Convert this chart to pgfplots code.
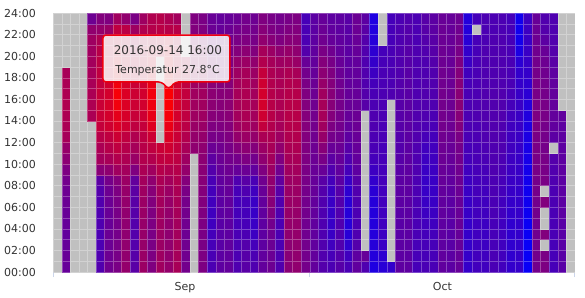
\documentclass[border=0pt]{standalone}
\usepackage{fontspec}
\setmainfont{DejaVu Sans}
\usepackage{pgfplots}
\usepackage{pgfplotstable}
\pgfplotsset{compat=1.18}
\definecolor{axgray}{HTML}{CCD6EB}
\definecolor{lbl}{HTML}{333333}
\definecolor{tipred}{HTML}{F0000F}
\pgfdeclareplotmark{cell}{\pgfpathrectangle{\pgfpoint{-4.2755bp}{-5.396bp}}{\pgfpoint{8.551bp}{10.792bp}}\pgfusepathqfillstroke}
% day index (0 = 2016-09-01), hourly temperatures h0..h23; -12 = no data (grey)
\pgfplotstableread{
d h0 h1 h2 h3 h4 h5 h6 h7 h8 h9 h10 h11 h12 h13 h14 h15 h16 h17 h18 h19 h20 h21 h22 h23
0 -12 -12 -12 -12 -12 -12 -12 -12 -12 -12 -12 -12 -12 -12 -12 -12 -12 -12 -12 -12 -12 -12 -12 -12
1 16.0 16.2 16.0 15.8 16.0 16.2 16.4 16.6 17.0 17.8 19.0 19.8 21.0 21.4 21.6 21.8 21.6 21.4 21.2 -12 -12 -12 -12 -12
2 -12 -12 -12 -12 -12 -12 -12 -12 -12 -12 -12 -12 -12 -12 -12 -12 -12 -12 -12 -12 -12 -12 -12 -12
3 -12 -12 -12 -12 -12 -12 -12 -12 -12 -12 -12 -12 -12 -12 -12 -12 -12 -12 -12 -12 -12 -12 -12 -12
4 -12 -12 -12 -12 -12 -12 -12 -12 -12 -12 -12 -12 -12 -12 21.4 21.6 21.4 21.2 21.0 20.8 20.6 20.4 19.4 16.6
5 14.4 14.2 14.0 14.0 14.2 14.2 14.4 14.6 15.2 18.8 20.8 21.4 22.4 23.4 23.8 23.8 23.6 23.2 23.0 22.8 22.4 21.6 19.6 18.2
6 16.8 16.6 16.4 16.4 16.2 16.2 16.4 16.6 17.2 19.2 21.2 22.2 23.0 24.2 24.6 24.8 24.6 24.4 24.0 23.8 23.6 23.2 20.0 18.0
7 17.6 17.4 17.4 17.2 17.2 17.4 17.6 17.8 18.4 20.6 22.0 23.0 24.0 25.2 26.0 27.0 27.4 27.0 26.2 25.4 24.4 23.8 23.0 20.6
8 19.6 19.4 19.4 19.2 19.2 19.4 19.6 19.8 20.2 20.8 21.6 22.2 23.0 24.2 24.8 25.2 25.2 25.0 24.6 24.0 23.4 23.0 22.6 19.4
9 15.0 14.8 14.6 14.6 14.6 14.8 15.0 15.2 15.8 18.0 20.0 21.0 21.8 23.0 23.6 24.0 24.0 23.8 23.4 22.8 21.6 21.0 20.4 17.6
10 20.2 20.0 19.8 19.8 19.8 20.0 20.2 20.4 20.8 21.4 22.0 22.4 22.8 23.4 24.0 24.4 24.4 24.2 23.8 23.4 22.8 22.4 21.8 20.4
11 18.0 17.8 17.6 17.6 17.8 18.0 18.2 18.6 19.2 20.6 22.0 23.0 24.0 25.4 26.2 26.8 27.0 26.4 25.6 25.0 24.2 23.0 22.2 21.8
12 20.6 20.4 20.2 20.2 20.4 20.6 20.8 21.0 21.4 22.2 23.0 23.8 -12 -12 -12 -12 -12 -12 -12 -12 23.6 23.2 22.6 22.2
13 19.6 19.4 19.4 19.2 19.4 19.6 19.8 20.2 20.8 21.8 23.2 24.2 25.2 26.4 27.2 27.6 27.8 27.4 26.6 26.0 25.4 24.8 22.4 21.6
14 21.2 21.0 21.0 20.8 20.8 21.0 21.2 21.4 21.8 22.2 22.8 23.2 23.8 24.2 24.6 24.8 24.8 24.6 24.2 23.6 23.2 22.8 22.4 20.8
15 17.0 16.8 16.8 16.6 16.8 17.0 17.2 17.6 18.4 19.6 20.4 21.2 22.0 22.6 23.0 23.2 23.2 23.0 22.8 22.4 -12 -12 -12 -12
16 -12 -12 -12 -12 -12 -12 -12 -12 -12 -12 -12 19.2 19.6 20.0 20.4 20.6 20.6 20.4 20.2 19.8 19.4 18.6 18.2 18.0
17 17.8 17.8 17.6 17.6 17.8 18.0 18.2 18.4 18.6 18.8 19.0 19.2 19.6 20.0 20.4 20.6 20.6 20.4 20.2 19.8 19.2 18.4 18.0 17.6
18 14.0 13.8 13.6 13.4 13.0 13.0 13.2 13.4 13.8 14.6 15.4 16.4 17.4 18.0 18.6 19.0 19.0 18.8 18.4 17.8 17.2 16.6 16.4 16.2
19 15.4 15.2 15.0 15.0 15.0 15.2 15.2 15.4 15.6 16.0 16.4 16.8 17.4 18.0 18.4 18.6 18.6 18.4 18.0 17.6 17.0 16.4 16.0 15.8
20 15.8 15.6 15.6 15.4 15.4 15.6 15.8 16.0 16.2 16.6 17.0 17.4 18.0 18.4 18.8 19.0 18.8 18.6 18.2 17.8 17.2 16.8 16.4 16.0
21 14.2 14.0 14.0 13.8 13.6 13.4 13.4 13.6 14.2 16.0 17.2 18.4 19.6 20.4 20.8 21.0 21.0 20.8 20.4 19.6 18.4 17.6 17.0 16.4
22 15.0 14.8 14.6 14.0 13.6 13.4 13.6 14.2 15.0 16.4 17.8 19.0 20.2 21.0 21.4 21.6 21.6 21.4 21.0 20.2 19.0 18.0 17.4 17.0
23 14.2 14.0 13.4 12.8 12.6 12.4 12.6 13.0 13.8 15.6 17.0 18.4 19.6 20.4 20.8 21.0 20.8 20.6 20.2 19.4 18.2 17.4 17.0 16.6
24 15.8 15.6 15.4 15.4 15.4 15.6 15.8 16.2 16.8 18.0 19.2 20.2 21.4 23.2 24.2 24.6 24.6 24.2 23.4 22.0 21.0 19.4 18.6 18.0
25 16.6 16.4 16.4 16.6 17.0 18.0 18.6 19.0 19.4 20.2 20.8 21.2 21.6 22.0 22.4 22.4 22.2 22.0 21.6 21.0 20.2 18.6 17.8 17.4
26 14.4 14.2 14.0 14.0 14.0 14.2 14.4 14.8 15.6 16.8 18.0 19.4 20.4 21.0 21.4 21.6 21.6 21.4 21.0 20.4 19.2 18.0 17.4 17.0
27 18.8 18.8 19.0 19.2 19.6 19.8 20.0 20.0 20.2 20.6 21.0 21.4 21.8 22.2 22.4 22.4 22.2 22.0 21.6 20.6 19.8 18.6 18.0 17.4
28 19.4 19.4 19.4 19.6 19.6 19.8 20.0 20.2 20.4 20.8 21.2 21.6 22.0 22.2 22.4 22.4 22.2 21.8 21.2 20.0 19.2 18.6 18.2 17.8
29 17.2 17.0 17.0 16.8 16.8 17.0 17.0 17.2 17.4 17.6 17.8 18.0 18.2 18.4 18.4 18.2 18.0 17.6 17.0 16.2 14.6 14.0 13.8 13.6
30 15.8 15.8 15.6 15.6 15.6 15.8 15.8 16.0 16.0 16.2 16.4 16.6 16.8 17.0 17.0 16.8 16.6 16.4 16.0 15.8 15.6 15.4 15.2 15.2
31 14.6 14.4 14.4 14.2 14.2 14.2 14.4 14.6 15.0 16.2 17.4 18.6 19.8 20.6 21.0 21.0 20.6 19.8 19.0 18.4 17.6 16.8 16.4 16.0
32 14.0 13.6 13.0 12.6 12.4 12.4 12.6 12.8 13.4 14.4 15.2 16.2 17.2 17.8 18.4 18.6 18.6 18.4 18.0 17.4 16.8 16.0 15.6 15.4
33 14.8 14.6 14.4 14.4 14.4 14.4 14.6 14.8 15.2 15.6 16.0 16.4 16.8 17.0 17.2 17.2 17.0 16.8 16.4 16.2 15.8 15.6 15.4 15.4
34 13.8 13.0 11.8 11.2 11.0 11.0 11.2 11.6 12.4 13.4 14.2 14.8 15.4 15.8 16.0 16.2 16.0 15.8 15.6 15.4 15.2 15.2 15.0 15.0
35 15.6 15.4 14.6 14.2 14.0 14.0 14.2 14.4 14.8 15.4 15.8 16.0 16.2 16.4 16.4 16.2 16.0 15.8 15.8 15.8 16.0 16.2 16.4 16.4
36 14.2 16.0 -12 -12 -12 -12 -12 -12 -12 -12 -12 -12 -12 -12 -12 14.8 14.6 14.4 14.4 14.2 14.4 14.6 15.0 15.2
37 10.4 10.8 11.0 10.8 10.8 10.8 11.0 11.4 12.0 12.8 13.4 13.8 14.0 14.2 14.2 14.0 13.8 13.4 12.8 12.2 11.6 11.0 10.6 10.4
38 11.2 11.6 12.6 12.8 13.0 13.0 13.2 13.2 13.4 13.4 13.6 13.6 13.8 13.8 14.0 14.0 14.0 13.8 13.8 13.6 13.4 -12 -12 -12
39 12.0 -12 -12 -12 -12 -12 -12 -12 -12 -12 -12 -12 -12 -12 -12 -12 14.2 14.0 14.0 13.8 13.8 13.6 13.6 13.4
40 15.4 15.2 15.2 15.0 15.0 15.0 15.2 15.2 15.2 15.0 14.8 14.6 14.6 14.8 14.8 14.8 14.6 14.6 14.4 14.4 14.4 14.2 14.2 14.0
41 15.4 15.2 15.2 15.2 15.2 15.2 15.2 15.4 15.4 15.4 15.4 15.2 15.2 15.2 15.2 15.2 15.0 15.0 15.0 14.8 14.8 14.6 14.6 14.4
42 13.6 13.6 13.6 13.8 13.8 13.8 14.0 14.0 14.0 14.2 14.2 14.2 14.4 14.4 14.4 14.4 14.2 14.2 14.2 14.2 14.2 14.0 14.0 14.0
43 13.8 13.6 13.6 13.4 13.2 12.8 12.6 12.4 12.4 12.6 12.8 13.0 13.6 14.0 14.2 14.4 14.4 14.4 14.2 14.2 14.4 14.6 14.8 14.8
44 13.8 13.6 13.6 13.4 13.0 12.8 12.6 12.6 12.6 12.8 13.0 13.2 13.4 13.8 14.0 14.2 14.4 14.4 14.4 14.6 14.8 15.0 15.2 15.2
45 15.6 15.6 15.4 15.4 15.4 15.6 15.6 15.8 16.0 16.2 16.4 16.6 16.8 17.0 17.0 17.0 17.0 16.8 16.8 16.6 16.6 16.4 16.4 16.2
46 15.2 15.2 15.0 15.0 15.0 15.2 15.2 15.4 15.6 15.8 16.0 16.2 16.4 16.6 16.6 16.6 16.6 16.4 16.4 16.2 16.2 16.2 16.0 16.0
47 16.0 16.0 16.0 16.0 16.2 16.2 16.2 16.4 16.6 16.8 17.0 17.2 17.6 18.2 18.6 18.8 18.8 18.6 18.4 18.0 17.4 17.0 16.8 16.6
48 12.2 12.2 12.2 12.2 12.2 12.4 12.4 12.6 12.8 13.0 13.4 13.6 13.8 14.0 14.0 14.0 13.8 13.6 13.2 12.6 12.0 11.2 10.8 10.8
49 13.2 13.2 13.0 13.0 13.0 13.2 13.2 13.4 13.4 13.6 13.8 13.8 14.0 14.0 14.2 14.2 14.0 14.0 13.8 13.8 13.6 13.6 -12 13.4
50 13.0 13.0 12.8 12.8 12.8 13.0 13.0 13.2 13.4 13.6 13.8 14.0 14.2 14.2 14.4 14.4 14.4 14.2 14.2 14.2 14.2 14.0 14.0 14.0
51 13.8 13.8 13.6 13.6 13.6 13.8 13.8 14.0 14.0 14.2 14.2 14.2 14.4 14.4 14.4 14.4 14.4 14.2 14.2 14.2 14.2 14.2 14.0 14.0
52 13.2 13.2 13.0 13.0 13.0 13.2 13.2 13.4 13.6 13.8 14.0 14.2 14.2 14.2 14.4 14.4 14.4 14.2 14.2 14.2 14.2 14.2 14.0 14.0
53 12.0 11.8 11.8 11.8 11.8 12.0 12.2 12.4 12.6 12.8 12.8 13.0 13.0 13.0 13.2 13.4 13.6 13.8 13.8 13.8 13.8 13.6 13.6 13.4
54 12.2 12.2 12.0 12.0 12.0 12.2 12.2 12.2 12.4 12.4 12.4 12.4 12.6 12.6 12.6 12.6 12.4 12.2 12.0 11.4 10.2 9.6 9.4 9.4
55 8.6 8.6 8.6 8.8 8.8 9.0 9.2 9.2 9.4 9.6 9.8 10.0 10.2 10.4 10.6 10.8 11.4 11.8 12.2 12.4 12.6 12.6 12.8 12.8
56 17.0 17.0 17.0 16.8 16.8 17.0 17.0 17.2 17.2 17.4 17.4 17.6 17.6 17.8 17.8 17.6 17.4 17.4 17.2 17.0 16.8 16.6 16.4 16.2
57 17.8 17.6 -12 18.2 -12 -12 18.2 -12 17.6 17.4 17.4 17.2 17.2 17.2 17.4 17.4 17.2 17.0 16.8 16.6 16.2 15.2 14.6 14.4
58 13.6 13.6 13.6 13.8 13.8 13.8 14.0 14.0 14.2 14.4 14.6 -12 15.2 15.6 15.8 15.8 15.8 15.6 15.4 15.0 14.6 14.4 14.2 14.2
59 15.0 15.0 15.0 15.0 15.0 15.2 15.2 15.2 15.2 15.4 15.4 15.4 15.4 15.4 15.6 -12 -12 -12 -12 -12 -12 -12 -12 -12
60 -12 -12 -12 -12 -12 -12 -12 -12 -12 -12 -12 -12 -12 -12 -12 -12 -12 -12 -12 -12 -12 -12 -12 -12
}\temps
\begin{document}
\begin{tikzpicture}
\useasboundingbox (-53.3bp,-26bp) rectangle (531.7bp,272bp);
\begin{axis}[
  at={(0,0)}, anchor=south west,
  scale only axis, width=521.6bp, height=259bp,
  xmin=0, xmax=61, ymin=0, ymax=24,
  clip marker paths=true,
  colormap={hc}{rgb255=(192,192,192) rgb255=(0,0,255) rgb255=(255,0,0)},
  point meta min=-12, point meta max=28,
  axis x line*=bottom, axis y line*=left,
  x axis line style={draw=axgray, line width=1bp},
  y axis line style={draw=none},
  xtick={0,30,61}, xticklabels={},
  extra x ticks={15.4,45.5}, extra x tick labels={Sep,Oct},
  extra x tick style={major tick length=0pt},
  ytick={0,2,...,24},
  yticklabels={00:00,02:00,04:00,06:00,08:00,10:00,12:00,14:00,16:00,18:00,20:00,22:00,24:00},
  tick align=outside, major tick length=5bp,
  x tick style={draw=axgray, line width=1bp},
  y tick style={draw=none},
  ticklabel style={font=\fontsize{11bp}{13bp}\selectfont, text=lbl},
  yticklabel style={xshift=-9bp},
  xticklabel style={yshift=-6.5bp},
]
\pgfplotsinvokeforeach{0,...,23}{
  \addplot[scatter, only marks, mark=cell, point meta=explicit,
    mark options={line width=0.5bp},
    scatter/use mapped color={draw=mapped color!72!white, fill=mapped color}]
    table[x expr=\thisrow{d}+0.5, y expr=#1+0.5, meta=h#1] {\temps};
}
% tooltip
\fill[black, opacity=0.12, rounded corners=3bp, xshift=1bp, yshift=-1bp]
  (axis cs:5.81,17.61) -- (axis cs:12.65,17.61) -- (axis cs:13.5,16.96) -- (axis cs:14.29,17.61)
  -- (axis cs:20.66,17.61) -- (axis cs:20.66,21.96) -- (axis cs:5.81,21.96) -- cycle;
\filldraw[draw=tipred, line width=1.5bp, fill=white, fill opacity=0.85, rounded corners=3bp]
  (axis cs:5.81,17.61) -- (axis cs:12.65,17.61) -- (axis cs:13.5,16.96) -- (axis cs:14.29,17.61)
  -- (axis cs:20.66,17.61) -- (axis cs:20.66,21.96) -- (axis cs:5.81,21.96) -- cycle;
\node[anchor=base, font=\fontsize{12bp}{14bp}\selectfont, text=lbl, inner sep=0pt]
  at (axis cs:13.4,20.11) {2016-09-14 16:00};
\node[anchor=base, font=\fontsize{11bp}{13bp}\selectfont, text=lbl, inner sep=0pt]
  at (axis cs:13.36,18.41) {Temperatur 27.8°C};
\end{axis}
\end{tikzpicture}
\end{document}
